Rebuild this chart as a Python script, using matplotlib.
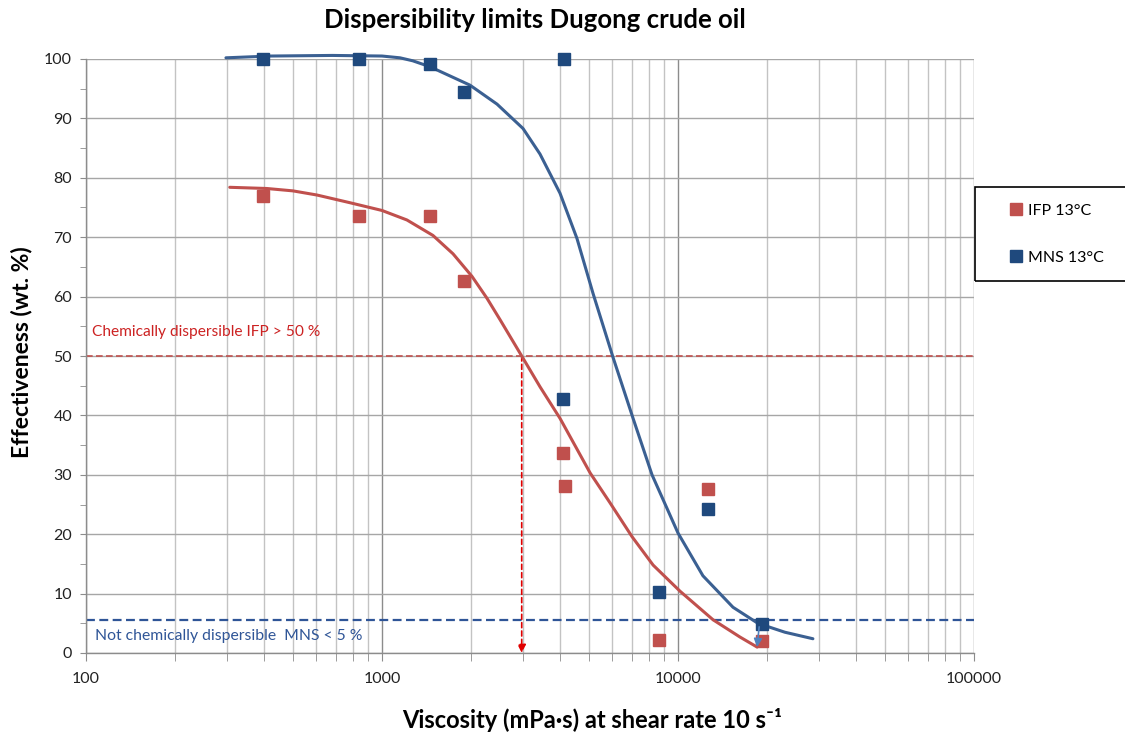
import numpy as np
import matplotlib.pyplot as plt
from matplotlib.patches import Rectangle
from matplotlib.ticker import LogLocator, FixedLocator, MultipleLocator, NullFormatter

plt.rcParams['font.family'] = ['Lato', 'DejaVu Sans']

# --- measured points ---
ifp_visc = [397, 836, 1452, 1897, 4100, 4150, 8650, 12590, 19190]
ifp_eff = [76.9, 73.6, 73.6, 62.7, 33.7, 28.1, 2.2, 27.6, 2.0]
mns_visc = [397, 836, 1452, 1897, 4121, 4100, 8650, 12590, 19190]
mns_eff = [100, 100, 99.2, 94.4, 100, 42.8, 10.2, 24.2, 4.8]

# --- trend lines ---
ifp_fit_visc = [306, 408, 500, 603, 780, 1000, 1214, 1486, 1738, 2014, 2264, 2506, 2965,
                3420, 3994, 5050, 5890, 6990, 8240, 10160, 13130, 16180, 18500]
ifp_fit_eff = [78.4, 78.2, 77.8, 77.1, 75.8, 74.5, 72.9, 70.3, 67.2, 63.4, 59.7, 56.1, 50.0,
               44.8, 39.5, 30.3, 25.3, 19.6, 14.8, 10.4, 5.6, 2.7, 1.0]
mns_fit_visc = [297, 420, 680, 1000, 1150, 1270, 1452, 1982, 2447, 2995, 3418, 3994, 4556,
                5166, 6030, 7040, 8170, 10000, 12140, 15340, 18620, 22960, 28560]
mns_fit_eff = [100.2, 100.5, 100.6, 100.5, 100.2, 99.7, 98.7, 95.6, 92.4, 88.3, 84.0, 77.4, 69.8,
               60.5, 49.8, 39.6, 30.0, 20.2, 13.0, 7.7, 5.0, 3.5, 2.4]

ifp_limit = 50
mns_limit = 5.6
ifp_crit_visc = 2965
arrow_start = (18800, 4.4)
arrow_end = (18500, 1.0)

red = '#c0504d'
blue = '#1f497d'
blue_line = '#3b6092'

fig = plt.figure(figsize=(11.25, 7.33), dpi=100)
ax = fig.add_axes([86 / 1125, 80 / 733, 888 / 1125, 594 / 733])

ax.set_xscale('log')
ax.set_xlim(100, 100000)
ax.set_ylim(0, 100)

# grid
ax.xaxis.set_minor_locator(LogLocator(base=10, subs=np.arange(2, 10), numticks=10))
ax.xaxis.set_minor_formatter(NullFormatter())
ax.set_xticks([100, 1000, 10000, 100000])
ax.set_xticklabels(['100', '1000', '10000', '100000'])
ax.yaxis.set_major_locator(FixedLocator(np.arange(0, 101, 10)))
ax.yaxis.set_minor_locator(MultipleLocator(5))
ax.grid(True, which='major', axis='x', color='#8c8c8c', lw=1.0)
ax.grid(True, which='minor', axis='x', color='#c3c3c3', lw=1.0)
ax.grid(True, which='major', axis='y', color='#a6a6a6', lw=1.0)
ax.set_axisbelow(True)

for s in ['top', 'right']:
    ax.spines[s].set_visible(False)
for s in ['left', 'bottom']:
    ax.spines[s].set_color('#8c8c8c')
    ax.spines[s].set_linewidth(1.0)
ax.tick_params(axis='both', which='both', color='#8c8c8c', direction='out', labelsize=11.5, labelcolor='#222222')
ax.tick_params(axis='x', which='both', length=6, pad=8)
ax.tick_params(axis='y', which='both', length=4, pad=6)

# limit lines
ax.axhline(ifp_limit, color=red, ls=(0, (4, 2)), lw=1.2)
ax.axhline(mns_limit, color='#2f5597', ls=(0, (4, 2)), lw=1.6)
ax.annotate('', xy=(ifp_crit_visc, 0), xytext=(ifp_crit_visc, ifp_limit),
            arrowprops=dict(arrowstyle='-|>', color='#e00000', lw=1.2, ls=(0, (3, 2)),
                            mutation_scale=12, shrinkA=0, shrinkB=0))

# trend lines
ax.plot(ifp_fit_visc, ifp_fit_eff, color=red, lw=2.2, solid_capstyle='round',
        solid_joinstyle='round', zorder=3, clip_on=False)
ax.plot(mns_fit_visc, mns_fit_eff, color=blue_line, lw=2.2, solid_capstyle='round',
        solid_joinstyle='round', zorder=3, clip_on=False)

# points
ax.plot(ifp_visc, ifp_eff, ls='none', marker='s', ms=9, color=red, mec=red, label='IFP 13°C',
        zorder=4, clip_on=False)
ax.plot(mns_visc, mns_eff, ls='none', marker='s', ms=9, color=blue, mec=blue, label='MNS 13°C',
        zorder=4, clip_on=False)

ax.annotate('', xy=arrow_end, xytext=arrow_start,
            arrowprops=dict(arrowstyle='-|>', color='#4f81bd', lw=1.2,
                            mutation_scale=12, shrinkA=0, shrinkB=0), zorder=6)

ax.text(104.8, 54, 'Chemically dispersible IFP > 50 %', color='#cc2222', fontsize=11.2, va='center')
ax.text(107, 2.9, 'Not chemically dispersible  MNS < 5 %', color='#2f5597', fontsize=11.3, va='center')

fig.text(535 / 1125, (733 - 20) / 733, 'Dispersibility limits Dugong crude oil', fontsize=18.5,
         fontweight='bold', ha='center', va='center')
fig.text(22 / 1125, (733 - 352) / 733, 'Effectiveness (wt. %)', fontsize=16.5, fontweight='bold',
         rotation=90, ha='center', va='center')
fig.text(592 / 1125, (733 - 720) / 733, 'Viscosity (mPa·s) at shear rate 10 s⁻¹', fontsize=17,
         fontweight='bold', ha='center', va='center')

# legend box
fig.patches.append(Rectangle((975 / 1125, (733 - 281) / 733), 160 / 1125, 94 / 733,
                             transform=fig.transFigure, fill=False, ec='black', lw=1.2))
handles, labels = ax.get_legend_handles_labels()
fig.legend(handles, labels, loc='center left', bbox_to_anchor=(1008 / 1125, (733 - 234) / 733),
           frameon=False, fontsize=11.5, handletextpad=0.25, handlelength=1.0,
           labelspacing=2.05, borderpad=0, borderaxespad=0)

fig.savefig('out.png', dpi=100)
